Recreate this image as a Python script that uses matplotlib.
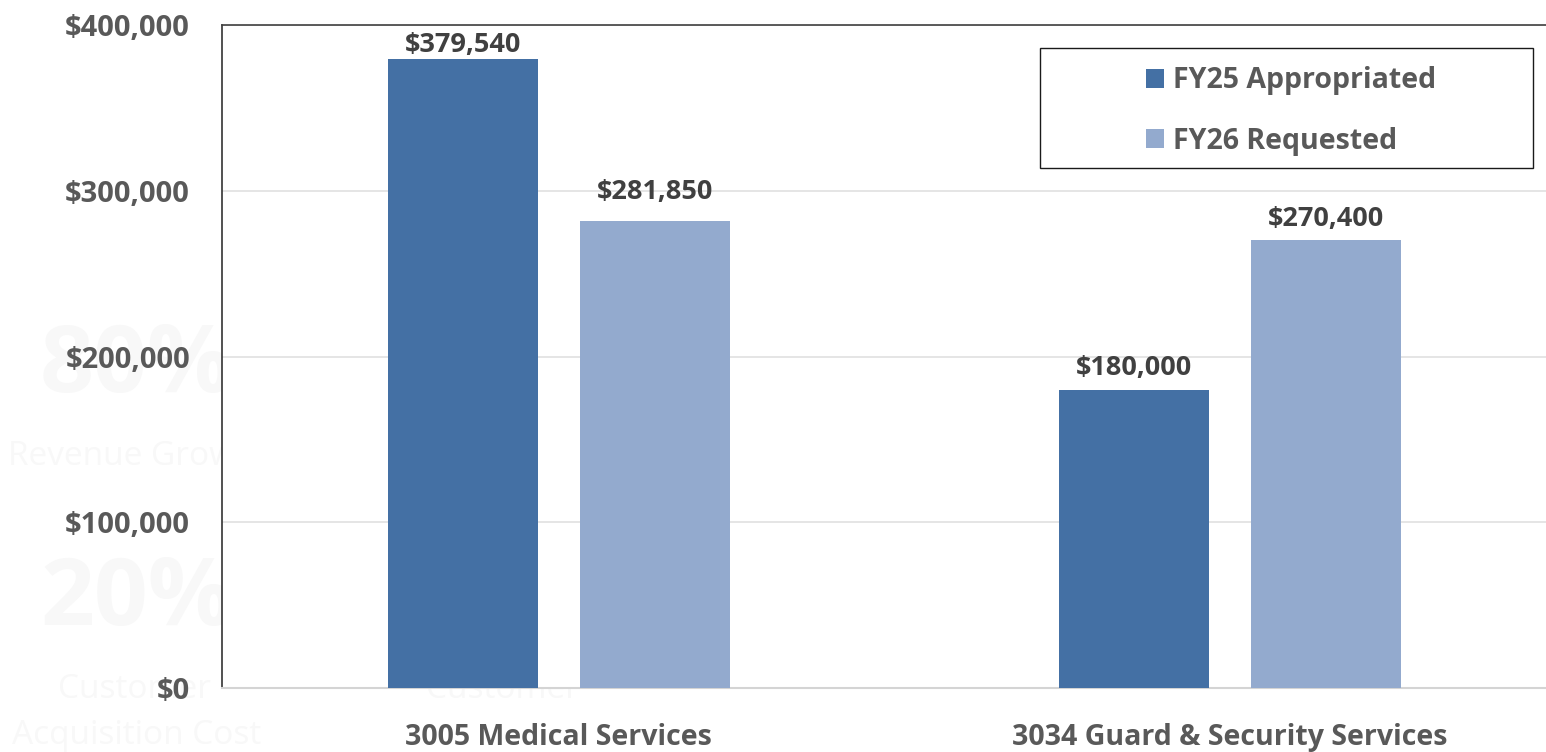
import matplotlib
matplotlib.use("Agg")
import matplotlib.pyplot as plt
import matplotlib.patches as mpatches
from matplotlib.ticker import FuncFormatter
import numpy as np

categories = ["3005 Medical Services", "3034 Guard & Security Services"]
series_names = ["FY25 Appropriated", "FY26 Requested"]
fy25 = [379540, 180000]
fy26 = [281850, 270400]
y_ticks = [0, 100000, 200000, 300000, 400000]
label_offsets = [[1, 9], [16, 8]]  # px above bar top, per series / category

colors = ["#4470a4", "#93aace"]
FONT = ["Open Sans", "DejaVu Sans"]
plt.rcParams["font.family"] = FONT

fig = plt.figure(figsize=(15.46, 7.52), dpi=100)
W, H = 1546, 752

# faint background text (behind the chart)
bg = "#f8f8f8"
fig.text(40 / W, 1 - 368 / H, "80%", fontsize=68, fontweight="bold", color=bg, va="center", ha="left", zorder=0)
fig.text(8 / W, 1 - 456 / H, "Revenue Growth", fontsize=24, color=bg, va="center", ha="left", zorder=0)
fig.text(40 / W, 1 - 600 / H, "20%", fontsize=68, fontweight="bold", color=bg, va="center", ha="left", zorder=0)
fig.text(135 / W, 1 - 690 / H, "Customer", fontsize=24, color=bg, va="center", ha="center", zorder=0)
fig.text(137 / W, 1 - 735 / H, "Acquisition Cost", fontsize=24, color=bg, va="center", ha="center", zorder=0)
fig.text(502 / W, 1 - 690 / H, "Customer", fontsize=24, color=bg, va="center", ha="center", zorder=0)

ax = fig.add_axes([222 / W, 1 - 688 / H, (1567 - 222) / W, (688 - 25) / H], zorder=1)
ax.set_facecolor("white")

x = np.arange(len(categories))
bw = 0.2236
off = 0.143
b1 = ax.bar(x - off, fy25, bw, color=colors[0], label=series_names[0], zorder=3)
b2 = ax.bar(x + off, fy26, bw, color=colors[1], label=series_names[1], zorder=3)

ax.set_xlim(-0.502, 1.502)
ax.set_ylim(0, 400000)
ax.set_yticks(y_ticks)
ax.yaxis.set_major_formatter(FuncFormatter(lambda v, p: f"${v:,.0f}"))
ax.set_xticks(x)
ax.set_xticklabels(categories)

ax.grid(axis="y", color="#e0e0e0", linewidth=1.2, zorder=0)
ax.set_axisbelow(True)
ax.spines["right"].set_visible(False)
ax.spines["left"].set_color("#333333")
ax.spines["top"].set_color("#404040")
ax.spines["bottom"].set_color("#d4d4d4")
ax.spines["bottom"].set_linewidth(1.5)
ax.spines["left"].set_linewidth(1.2)
ax.spines["top"].set_linewidth(1.2)

ax.tick_params(axis="both", length=0, labelcolor="#595959")
ax.tick_params(axis="y", pad=23, labelsize=21)
ax.tick_params(axis="x", pad=25, labelsize=20.5)
for t in ax.get_yticklabels() + ax.get_xticklabels():
    t.set_fontweight("bold")

for si, bars in enumerate([b1, b2]):
    vals = [fy25, fy26][si]
    for ci, (rect, v) in enumerate(zip(bars, vals)):
        ax.annotate(f"${v:,.0f}", (rect.get_x() + rect.get_width() / 2, v),
                    xytext=(0, label_offsets[si][ci] * 0.72), textcoords="offset points",
                    ha="center", va="bottom", fontsize=19.5, fontweight="bold",
                    color="#404040", zorder=4)

# legend box
fig.patches.append(mpatches.Rectangle((1040 / W, 1 - 168 / H), (1533 - 1040) / W, (168 - 48) / H,
                                      transform=fig.transFigure, fill=True, facecolor="white",
                                      edgecolor="#1a1a1a", linewidth=1.0, zorder=5))
leg = fig.legend(handles=[b1, b2], labels=series_names, loc="center",
                 bbox_to_anchor=(1291 / W, 1 - 111 / H), frameon=False,
                 prop={"size": 20.5, "weight": "bold"}, handlelength=0.62, handleheight=0.62,
                 handletextpad=0.3, labelspacing=1.1)
leg.set_zorder(6)
for t in leg.get_texts():
    t.set_color("#595959")

fig.savefig("out.png", dpi=100)
